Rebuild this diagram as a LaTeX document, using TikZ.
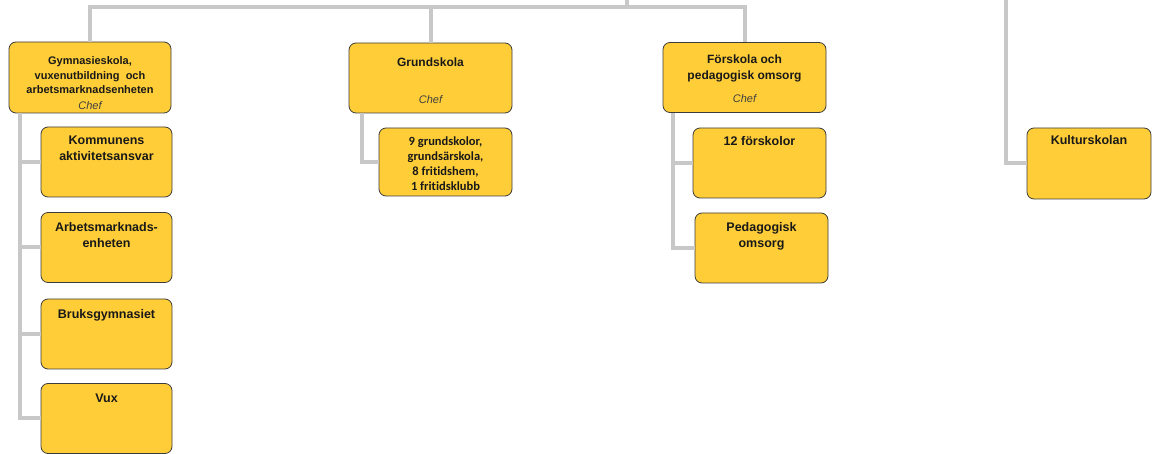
\documentclass[tikz,border=0pt]{standalone}
\usepackage{fontspec}
\setmainfont{Liberation Sans}
\newfontfamily\carlito[Ligatures={NoCommon}]{Carlito}
\usetikzlibrary{positioning}
\definecolor{boxfill}{RGB}{255,205,55}
\definecolor{boxline}{RGB}{60,60,60}
\definecolor{linkgray}{RGB}{200,200,200}
\definecolor{textdark}{RGB}{25,25,25}
\tikzset{
  unit/.style={draw=boxline, fill=boxfill, rounded corners=7pt, line width=0.8pt, inner sep=0pt},
  headunit/.style={unit, minimum width=163pt, minimum height=70pt},
  subunit/.style={unit, minimum width=131pt, minimum height=70pt},
  link/.style={draw=linkgray, line width=4pt},
  headtext/.style={inner sep=0pt, align=center, text=textdark, font=\bfseries\fontsize{12}{16}\selectfont},
  subtext/.style={inner sep=0pt, align=center, text=textdark, font=\bfseries\fontsize{12.5}{16}\selectfont},
  cheftext/.style={inner sep=0pt, text=black!75, font=\itshape\fontsize{11}{13}\selectfont}
}
\begin{document}
\begin{tikzpicture}[x=1pt, y=-1pt]
  \useasboundingbox (0,0) rectangle (1152,454);
  % units
  \node[headunit, minimum width=162pt, minimum height=71pt] (gymn) at (90,77.5) {};
  \node[subunit] (kommun) at (106.5,162) {};
  \node[subunit] (arbets) at (106.5,247.5) {};
  \node[subunit] (bruks) at (106.5,334) {};
  \node[subunit] (vux) at (106.5,418.5) {};
  \node[headunit] (grund) at (430.5,78) {};
  \node[subunit, minimum width=133pt, minimum height=68pt] (grundsub) at (445.5,162) {};
  \node[headunit] (forskola) at (744.5,77.5) {};
  \node[subunit, minimum width=133pt] (forsk12) at (759.5,163) {};
  \node[subunit, minimum width=133pt] (pedomsorg) at (761.5,248) {};
  \node[subunit, minimum width=124pt, minimum height=71pt] (kultur) at (1089,163.5) {};
  % texts
  \node[headtext, font=\bfseries\fontsize{11}{14.3}\selectfont, below=15pt of gymn.north] (gymn-t)
    {Gymnasieskola,\\vuxenutbildning\ \ och\\arbetsmarknadsenheten};
  \node[cheftext, above=4pt of gymn.south] (gymn-c) {Chef};
  \node[subtext, below=9pt of kommun.north] (kommun-t) {Kommunens\\aktivitetsansvar};
  \node[subtext, below=10pt of arbets.north] (arbets-t) {Arbetsmarknads-\\enheten};
  \node[subtext, below=11pt of bruks.north] (bruks-t) {Bruksgymnasiet};
  \node[subtext, below=11pt of vux.north] (vux-t) {Vux};
  \node[headtext, below=15pt of grund.north] (grund-t) {Grundskola};
  \node[cheftext, above=10pt of grund.south] (grund-c) {Chef};
  \node[subtext, font=\carlito\bfseries\fontsize{12.5}{15}\selectfont, below=9pt of grundsub.north] (grundsub-t)
    {9 grundskolor,\\grundsärskola,\\8 fritidshem,\\1 fritidsklubb};
  \node[headtext, below=12.5pt of forskola.north] (forskola-t) {Förskola och\\pedagogisk omsorg};
  \node[cheftext, above=10pt of forskola.south] (forskola-c) {Chef};
  \node[subtext, below=9pt of forsk12.north] (forsk12-t) {12 förskolor};
  \node[subtext, below=10pt of pedomsorg.north] (pedomsorg-t) {Pedagogisk\\omsorg};
  \node[subtext, below=8pt of kultur.north] (kultur-t) {Kulturskolan};
  % links
  \coordinate (topjoin) at (627,7);
  \coordinate (topend) at (627,0);
  \coordinate (kulturtop) at (1006,0);
  \draw[link] (gymn.north) |- (topjoin) -| (forskola.north);
  \draw[link] (grund.north) -- (grund.north |- topjoin);
  \draw[link] (topjoin) -- (topend);
  \draw[link] (kulturtop) |- (kultur.west);
  \coordinate (gymnstem) at ([xshift=11pt]gymn.south west);
  \draw[link] (gymnstem) |- (vux.west);
  \foreach \sub in {kommun,arbets,bruks}
    \draw[link] (gymnstem |- \sub.west) -- (\sub.west);
  \coordinate (grundstem) at ([xshift=13pt]grund.south west);
  \draw[link] (grundstem) |- (grundsub.west);
  \coordinate (forskstem) at ([xshift=10pt]forskola.south west);
  \draw[link] (forskstem) |- (pedomsorg.west);
  \draw[link] (forskstem |- forsk12.west) -- (forsk12.west);
\end{tikzpicture}
\end{document}
